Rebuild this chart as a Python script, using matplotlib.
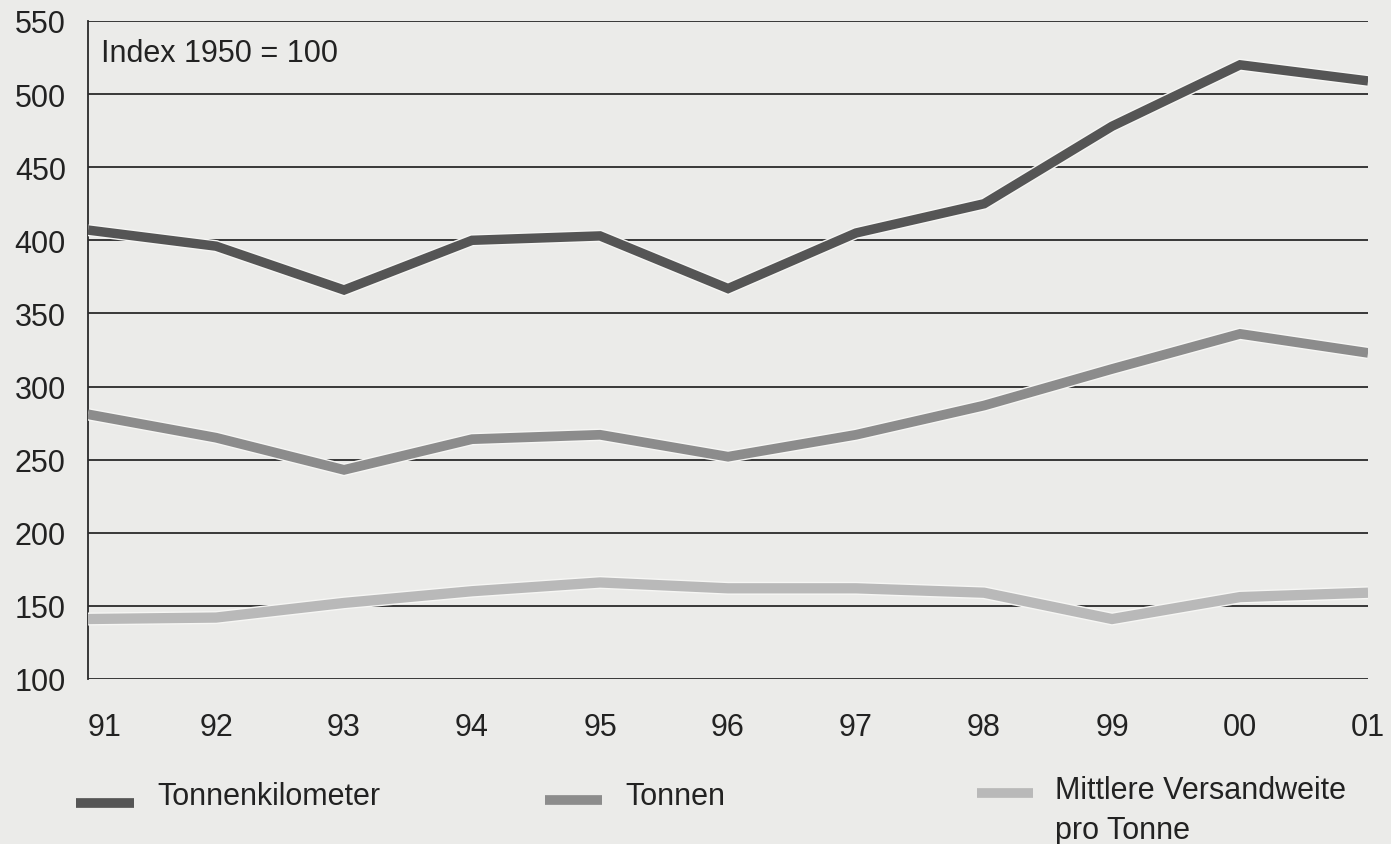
import numpy as np
import matplotlib
matplotlib.use("Agg")
import matplotlib.pyplot as plt
import matplotlib.patheffects as pe
from matplotlib.lines import Line2D

plt.rcParams['font.family'] = ['Liberation Sans', 'DejaVu Sans']

years = ['91', '92', '93', '94', '95', '96', '97', '98', '99', '00', '01']
tonnenkilometer = [407, 396, 366, 400, 403, 367, 405, 425, 478, 520, 509]
tonnen = [281, 265, 243, 264, 267, 252, 267, 287, 312, 336, 323]
versandweite = [141, 142, 152, 160, 166, 162, 162, 159, 141, 156, 159]
yticks = [100, 150, 200, 250, 300, 350, 400, 450, 500, 550]

bg = '#ebebe9'
series = [
    ('Tonnenkilometer', tonnenkilometer, '#555555', 6.8),
    ('Tonnen', tonnen, '#8c8c8c', 7.0),
    ('Mittlere Versandweite\npro Tonne', versandweite, '#b9b9b9', 7.4),
]

fig = plt.figure(figsize=(13.91, 8.45), dpi=100, facecolor=bg)
ax = fig.add_axes([0.0633, 0.1953, 0.9202, 0.7787])
ax.set_facecolor(bg)

x = np.arange(len(years))
for name, vals, color, lw in series:
    ax.plot(x, vals, color=color, lw=lw, solid_capstyle='butt',
            solid_joinstyle='miter', zorder=3,
            path_effects=[pe.Stroke(linewidth=lw + 2.0, foreground='#f6f6f4'),
                          pe.Normal()])

ax.set_xlim(0, len(years) - 1)
ax.set_ylim(100, 550)
ax.set_yticks(yticks)
ax.set_yticklabels([str(v) for v in yticks], fontsize=22, color='#222222')
ax.set_xticks(x)
ax.set_xticklabels(years, fontsize=22, color='#222222')
ax.get_xticklabels()[0].set_ha('left')
ax.tick_params(axis='y', length=0, pad=16)
ax.tick_params(axis='x', length=0, pad=24)

ax.grid(axis='y', color='#2a2a2a', lw=1.3, zorder=1)
ax.set_axisbelow(True)
for s in ['top', 'right', 'bottom']:
    ax.spines[s].set_visible(False)
ax.spines['left'].set_color('#2a2a2a')
ax.spines['left'].set_linewidth(1.3)

ax.text(0.1, 528, 'Index 1950 = 100', fontsize=22, color='#222222',
        va='center', ha='left')

# legend row at the bottom (pixel positions in the figure)
W, H = 1391, 845
leg = [(76, 134, 804, 157, 797), (545, 602, 801, 625, 797),
       (977, 1033, 794, 1055, 811)]
for (x0, x1, sy, tx, ty), (name, vals, color, lw) in zip(leg, series):
    fig.add_artist(Line2D([x0 / W, x1 / W], [1 - sy / H, 1 - sy / H],
                          color=color, lw=7, solid_capstyle='butt'))
    fig.text(tx / W, 1 - ty / H, name, fontsize=22, color='#222222',
             va='center', ha='left', linespacing=1.45)

fig.savefig('out.png', dpi=100, facecolor=bg)
